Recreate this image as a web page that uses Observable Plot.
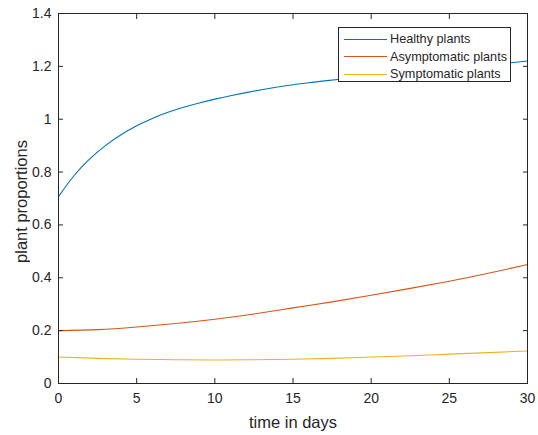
<!DOCTYPE html>
<html>
<head>
<meta charset="utf-8">
<script src="https://cdn.jsdelivr.net/npm/d3@7"></script>
<script src="https://cdn.jsdelivr.net/npm/@observablehq/plot@0.6"></script>
<style>
  html, body { margin: 0; padding: 0; background: #fff; }
  #wrap { position: relative; width: 538px; height: 435px; font-family: "Liberation Sans", Arial, sans-serif; }
  #legend { position: absolute; left: 338px; top: 27px; width: 173px; height: 55px; border: 1px solid #262626; background: #fff; box-sizing: border-box; }
  .row { position: absolute; left: 0; height: 18px; display: flex; align-items: center; font-size: 12.7px; color: #262626; white-space: nowrap; }
  .sw { display: inline-block; width: 43px; height: 0; border-top: 1px solid; margin-left: 5px; margin-right: 3px; }
</style>
</head>
<body>
<div id="wrap"><div id="legend"></div></div>
<script>
const healthyDays = [0, 1, 2, 3, 4, 5, 6, 7, 8, 9, 10, 11, 12, 13, 14, 15, 16, 17, 18, 20, 22, 24, 26, 28, 30];
const healthy = [0.707, 0.787, 0.850, 0.900, 0.941, 0.975, 1.003, 1.026, 1.045, 1.0615, 1.076, 1.089, 1.1007, 1.1117, 1.1217, 1.1307, 1.138, 1.145, 1.1515, 1.164, 1.175, 1.186, 1.197, 1.208, 1.220];
const days = [0, 2.5, 5, 7.5, 10, 12.5, 15, 17.5, 20, 22.5, 25, 27.5, 30];
const asymptomatic = [0.200, 0.204, 0.214, 0.227, 0.243, 0.263, 0.286, 0.309, 0.334, 0.360, 0.387, 0.417, 0.450];
const symptomatic = [0.100, 0.095, 0.092, 0.090, 0.089, 0.090, 0.092, 0.095, 0.100, 0.105, 0.111, 0.117, 0.123];
const seriesNames = ["Healthy plants", "Asymptomatic plants", "Symptomatic plants"];
const seriesColors = ["#0072BD", "#D95319", "#EDB120"];
const xTicks = [0, 5, 10, 15, 20, 25, 30];
const yTicks = [0, 0.2, 0.4, 0.6, 0.8, 1, 1.2, 1.4];
const xLabel = "time in days";
const yLabel = "plant proportions";

const seriesDays = [healthyDays, days, days];
const seriesValues = [healthy, asymptomatic, symptomatic];
const rows = [];
seriesNames.forEach((name, i) => seriesDays[i].forEach((d, j) => rows.push({day: d, value: seriesValues[i][j], series: name})));

const ink = "#262626";
const fmt = d => String(+d.toFixed(1));

const chart = Plot.plot({
  width: 538,
  height: 435,
  marginLeft: 58,
  marginRight: 11,
  marginTop: 13,
  marginBottom: 52,
  style: {fontFamily: '"Liberation Sans", Arial, sans-serif', color: ink, background: "#fff"},
  x: {domain: [0, 30]},
  y: {domain: [0, 1.4]},
  color: {domain: seriesNames, range: seriesColors},
  marks: [
    Plot.line(rows, {x: "day", y: "value", z: "series", stroke: "series", strokeWidth: 1.1, curve: "natural"}),
    Plot.frame({stroke: ink, strokeWidth: 1}),
    Plot.axisX(xTicks, {anchor: "bottom", tickSize: 0, tickPadding: 10, tickFormat: fmt, fontSize: 14, label: null}),
    Plot.axisX(xTicks, {anchor: "bottom", tickSize: -5, tickFormat: () => "", label: null}),
    Plot.axisX(xTicks, {anchor: "top", tickSize: -5, tickFormat: () => "", label: null}),
    Plot.axisY(yTicks, {anchor: "left", tickSize: 0, tickPadding: 7, tickFormat: fmt, fontSize: 14, label: null}),
    Plot.axisY(yTicks, {anchor: "left", tickSize: -5, tickFormat: () => "", label: null}),
    Plot.axisY(yTicks, {anchor: "right", tickSize: -5, tickFormat: () => "", label: null}),
    Plot.text([xLabel], {frameAnchor: "bottom", dy: 39, fontSize: 16.5, fill: ink, textAnchor: "middle", lineAnchor: "middle"}),
    Plot.text([yLabel], {frameAnchor: "left", dx: -37, dy: 3, rotate: -90, fontSize: 16.5, fill: ink, textAnchor: "middle", lineAnchor: "middle"})
  ]
});
document.getElementById("wrap").prepend(chart);

const legend = document.getElementById("legend");
seriesNames.forEach((name, i) => {
  const r = document.createElement("div");
  r.className = "row";
  r.style.top = (2 + i * 17.7) + "px";
  const sw = document.createElement("span");
  sw.className = "sw";
  sw.style.borderTopColor = seriesColors[i];
  const t = document.createElement("span");
  t.textContent = name;
  r.append(sw, t);
  legend.append(r);
});
</script>
</body>
</html>
